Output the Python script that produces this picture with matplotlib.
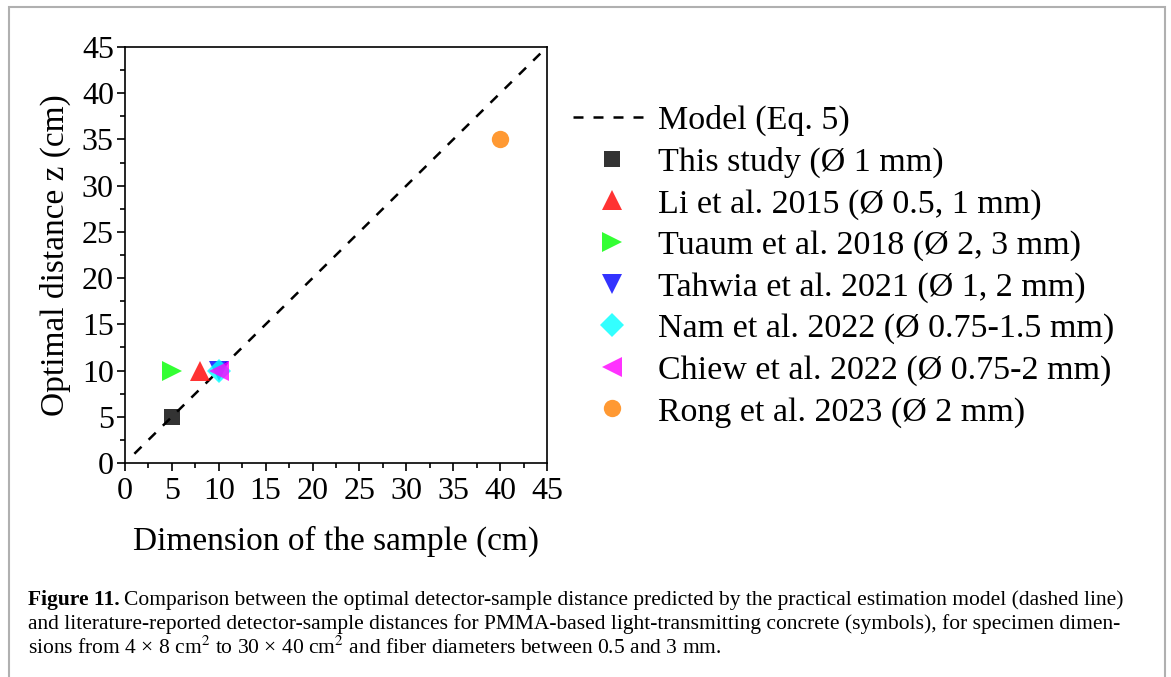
import numpy as np
import matplotlib
matplotlib.use("Agg")
import matplotlib.pyplot as plt
from matplotlib.patches import Rectangle
from matplotlib.ticker import MultipleLocator

plt.rcParams['font.family'] = ['Liberation Serif', 'DejaVu Serif']
plt.rcParams['mathtext.fontset'] = 'stix'

# Data (dimension of sample, optimal distance z)
labels = ["This study (Ø 1 mm)", "Li et al. 2015 (Ø 0.5, 1 mm)",
          "Tuaum et al. 2018 (Ø 2, 3 mm)", "Tahwia et al. 2021 (Ø 1, 2 mm)",
          "Nam et al. 2022 (Ø 0.75-1.5 mm)", "Chiew et al. 2022 (Ø 0.75-2 mm)",
          "Rong et al. 2023 (Ø 2 mm)"]
dims = [5, 8, 5, 10, 10, 10, 40]
dists = [5, 10, 10, 10, 10, 10, 35]
markers = ['s', '^', '>', 'v', 'D', '<', 'o']
colors = ['#000000', '#FF0000', '#00FF00', '#0000FF', '#00FFFF', '#FF00FF', '#FF8000']
sizes = [11.5, 15, 15, 15, 12, 15, 12.5]

model_x = [1, 45]
model_y = [1, 45]

fig = plt.figure(figsize=(11.71, 6.77), dpi=100)

# light gray frame around figure area (open at the bottom)
fig.add_artist(Rectangle((9 / 1171, -0.1), 1156 / 1171, 1.1 - 7 / 677,
                         transform=fig.transFigure, fill=False,
                         edgecolor='#b0b0b0', linewidth=1.5))

ax = fig.add_axes([125 / 1171, 1 - 463 / 677, 422 / 1171, 416 / 677])

ax.plot(model_x, model_y, color='black', linestyle=(0, (4, 4)), linewidth=1.8,
        label="Model (Eq. 5)")
for x, y, m, c, s, lab in zip(dims, dists, markers, colors, sizes, labels):
    ax.plot([x], [y], linestyle='none', marker=m, color=c, alpha=0.8,
            markersize=s, markeredgewidth=0, label=lab)

ax.set_xlim(0, 45)
ax.set_ylim(0, 45)
ax.xaxis.set_major_locator(MultipleLocator(5))
ax.yaxis.set_major_locator(MultipleLocator(5))
ax.xaxis.set_minor_locator(MultipleLocator(2.5))
ax.yaxis.set_minor_locator(MultipleLocator(2.5))
ax.tick_params(which='major', direction='out', length=6, width=1.2,
               labelsize=23, pad=2)
ax.tick_params(axis='x', which='major', pad=4)
ax.tick_params(which='minor', direction='out', length=3.5, width=1.2)
for sp in ax.spines.values():
    sp.set_linewidth(1.2)

ax.set_xlabel("Dimension of the sample (cm)", fontsize=24, labelpad=14)
ax.set_ylabel("Optimal distance z (cm)", fontsize=24, labelpad=8)

ax.legend(loc='upper left', bbox_to_anchor=(573 / 1171, 1 - 105 / 677),
          bbox_transform=fig.transFigure, frameon=False, fontsize=24.5,
          handlelength=2.3, handletextpad=0.2, labelspacing=0.31,
          borderpad=0, borderaxespad=0)

# caption
cap_size = 15.5
line1_y = 1 - 600 / 677
dy = 24 / 677
x0 = 28 / 1171
t = fig.text(x0, line1_y, "Figure 11.", fontsize=cap_size, fontweight='bold',
             va='center', ha='left')
fig.canvas.draw()
bb = t.get_window_extent().transformed(fig.transFigure.inverted())
fig.text(bb.x1 + 4 / 1171, line1_y,
         "Comparison between the optimal detector-sample distance predicted by the "
         "practical estimation model (dashed line)",
         fontsize=cap_size, va='center', ha='left')
fig.text(x0, line1_y - dy,
         "and literature-reported detector-sample distances for PMMA-based "
         "light-transmitting concrete (symbols), for specimen dimen-",
         fontsize=cap_size, va='center', ha='left')
fig.text(x0, line1_y - 2 * dy,
         "sions from 4 × 8 cm$^2$ to 30 × 40 cm$^2$ and fiber diameters between 0.5 and 3 mm.",
         fontsize=cap_size, va='center', ha='left')

fig.savefig("out.png", dpi=100)
